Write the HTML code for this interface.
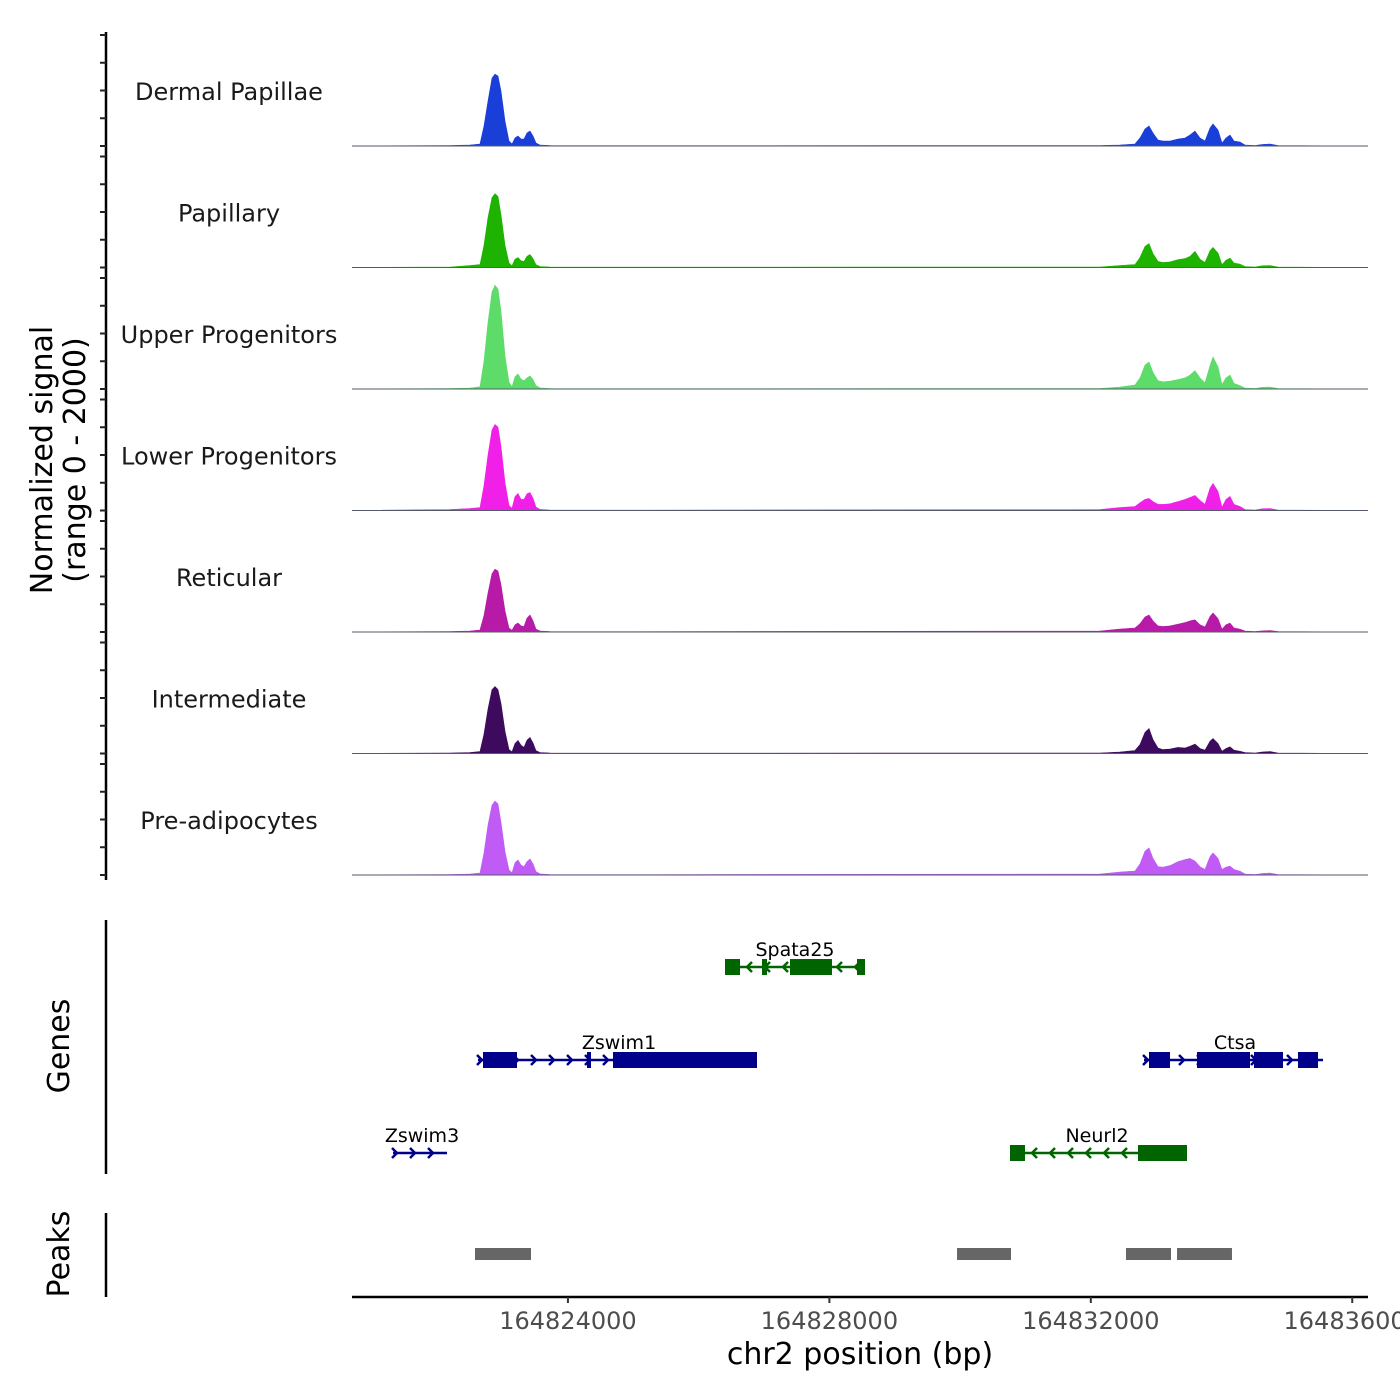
<!DOCTYPE html>
<html><head><meta charset="utf-8"><style>
html,body{margin:0;padding:0;background:#fff;}
svg{display:block;font-family:"DejaVu Sans","Liberation Sans",sans-serif;}
</style></head><body>
<svg id="chart" width="1400" height="1400" viewBox="0 0 1400 1400" xmlns="http://www.w3.org/2000/svg">
<g id="tracks"></g>
<g id="yaxis"></g>
<g id="genes"></g>
<g id="peaks"></g>
<g id="xaxis"></g>
<text transform="translate(52,460) rotate(-90)" text-anchor="middle" font-size="30" fill="#000">Normalized signal</text>
<text transform="translate(85,460) rotate(-90)" text-anchor="middle" font-size="30" fill="#000">(range 0 - 2000)</text>
<text transform="translate(69,1046) rotate(-90)" text-anchor="middle" font-size="30" fill="#000">Genes</text>
<text transform="translate(69,1254) rotate(-90)" text-anchor="middle" font-size="30" fill="#000">Peaks</text>
<text x="860" y="1364" text-anchor="middle" font-size="30" fill="#000">chr2 position (bp)</text>
</svg>
<script>
const positions = [164820696,164822195,164822501,164822654,164822716,164822777,164822838,164822884,164822930,164822976,164823037,164823098,164823144,164823190,164823236,164823282,164823328,164823374,164823419,164823465,164823511,164823572,164823725,164824490,
164832140,164832446,164832676,164832752,164832829,164832890,164832951,164833028,164833104,164833211,164833334,164833441,164833517,164833594,164833670,164833747,164833823,164833869,164833946,164834007,164834068,164834129,164834191,164834282,164834359,164834512,164834619,164834741,164834864,164836241];
const trackNames = ["Dermal Papillae","Papillary","Upper Progenitors","Lower Progenitors","Reticular","Intermediate","Pre-adipocytes"];
const trackColors = ["#1a3fd8","#1db300","#5ddc6a","#f020e8","#b81aa8","#3d0a5e","#c05cf5"];
const dermal = [0,9,18,36,360,810,1224,1296,1260,990,450,90,36,144,180,126,126,234,270,180,54,18,9,5, 9,18,36,144,306,360,234,108,90,90,126,144,198,270,144,90,324,396,288,54,144,198,90,72,18,9,27,36,9,0];
const papillary = [0,9,36,54,400,900,1260,1330,1280,950,400,80,30,150,180,120,110,200,234,160,50,18,9,5, 9,36,54,180,380,430,250,110,90,100,140,160,200,290,150,90,300,360,260,50,130,170,80,60,18,9,30,36,9,0];
const upper = [0,9,18,40,500,1200,1750,1870,1800,1400,600,120,40,220,270,180,150,200,234,170,60,20,9,5, 9,36,72,200,430,486,300,150,130,140,170,200,250,330,200,110,420,576,400,80,200,250,100,60,18,9,30,36,9,0];
const lower = [0,18,36,54,450,1000,1450,1550,1500,1150,500,90,40,250,306,200,200,300,324,220,60,20,9,5, 18,54,72,140,200,216,160,110,110,120,160,200,234,270,180,110,400,486,340,60,200,252,110,72,18,9,30,36,9,0];
const reticular = [0,9,18,36,300,700,1050,1134,1100,850,380,70,30,130,162,110,100,250,306,200,50,18,9,5, 18,54,72,150,270,306,200,110,100,110,140,170,200,220,130,90,280,342,240,50,130,160,70,50,18,9,20,27,9,0];
const intermediate = [0,9,18,36,350,800,1150,1206,1150,900,400,70,30,180,234,150,110,240,288,190,50,18,9,5, 9,27,54,160,380,450,250,100,70,80,110,100,130,170,90,60,220,270,180,40,90,120,60,40,18,9,27,36,9,0];
const preadipo = [0,9,18,36,400,900,1260,1332,1280,950,420,90,40,220,270,180,150,240,288,200,60,20,9,5, 18,54,72,200,430,486,300,150,140,170,240,280,300,250,150,100,330,396,300,100,140,160,100,70,18,9,27,36,9,0];
const xTicks = [164824000,164828000,164832000,164836000];
const xTickLabels = ["164824000","164828000","164832000","164836000"];
const peakStarts = [164822578,164829953,164832538,164833319];
const peakEnds = [164823435,164830779,164833227,164834160];

const series=[dermal,papillary,upper,lower,reticular,intermediate,preadipo];
const NS="http://www.w3.org/2000/svg";
const X0=352,X1=1368,BP0=164820696,BP1=164836241;
function xs(bp){return X0+(bp-BP0)/(BP1-BP0)*(X1-X0);}
function ys(v,base){return base-v/2000*111;}
function mk(tag,attrs,parent){const e=document.createElementNS(NS,tag);for(const k in attrs)e.setAttribute(k,attrs[k]);parent.appendChild(e);return e;}

const tg=document.getElementById('tracks');
series.forEach((vals,i)=>{
  const base=146+i*121.5;
  let d=`M${xs(positions[0])},${base}`;
  vals.forEach((v,j)=>{d+=` L${xs(positions[j]).toFixed(1)},${ys(v,base).toFixed(1)}`;});
  d+=` L${xs(positions[positions.length-1])},${base} Z`;
  const p=mk('path',{d:d,fill:trackColors[i],stroke:trackColors[i],'stroke-width':0.6},tg);
  
  
  const l=mk('line',{x1:X0,x2:X1,y1:base,y2:base,stroke:'#555a6a','stroke-width':1},tg);
  
  
  const t=mk('text',{x:229,y:base-46,'text-anchor':'middle','font-size':24,fill:'#1a1a1a'},tg);
  t.textContent=trackNames[i];
  
  
});

const ya=document.getElementById('yaxis');
mk('line',{x1:106,x2:106,y1:32,y2:880,stroke:'#000','stroke-width':2.5},ya);
for(let i=0;i<7;i++){const base=146+i*121.5;for(let k=0;k<5;k++){const y=base-k*27.75;mk('line',{x1:100,x2:106,y1:y,y2:y,stroke:'#222','stroke-width':2},ya);}}

const gg=document.getElementById('genes');
mk('line',{x1:106,x2:106,y1:920,y2:1174,stroke:'#000','stroke-width':2.5},gg);
const genes=[
 {name:'Spata25',y:967,col:'#006400',strand:-1,s:725,e:865,ex:[[725,740],[762,767],[790,832],[857,865]],lx:795},
 {name:'Zswim1',y:1060,col:'#00008b',strand:1,s:478,e:757,ex:[[483,517],[587,591],[613,757]],lx:619},
 {name:'Ctsa',y:1060,col:'#00008b',strand:1,s:1144,e:1323,ex:[[1149,1170],[1197,1250],[1254,1283],[1298,1318]],lx:1235},
 {name:'Zswim3',y:1153,col:'#00008b',strand:1,s:393,e:447,ex:[],lx:422},
 {name:'Neurl2',y:1153,col:'#006400',strand:-1,s:1010,e:1187,ex:[[1010,1025],[1138,1187]],lx:1097}
];
genes.forEach(g=>{
  const G=mk('g',{},gg);
  
  
  mk('line',{x1:g.s,x2:g.e,y1:g.y,y2:g.y,stroke:g.col,'stroke-width':2.5},G);
  for(let x=g.s+4;x<g.e;x+=18){
    const dx=g.strand*5;
    mk('polyline',{points:`${x-dx},${g.y-5} ${x},${g.y} ${x-dx},${g.y+5}`,fill:'none',stroke:g.col,'stroke-width':2.5},G);
  }
  g.ex.forEach(e=>mk('rect',{x:e[0],y:g.y-8,width:e[1]-e[0],height:16,fill:g.col},G));
  const t=mk('text',{x:g.lx,y:g.y-11,'text-anchor':'middle','font-size':19,fill:'#000'},G);
  t.textContent=g.name;
});

const pg=document.getElementById('peaks');
mk('line',{x1:106,x2:106,y1:1213,y2:1297,stroke:'#000','stroke-width':2.5},pg);
peakStarts.forEach((s,i)=>{
  const r=mk('rect',{x:xs(s),y:1248,width:xs(peakEnds[i])-xs(s),height:12,fill:'#666'},pg);
  
  
});

const xa=document.getElementById('xaxis');
mk('line',{x1:X0,x2:X1,y1:1297,y2:1297,stroke:'#000','stroke-width':2.5},xa);
xTicks.forEach((b,i)=>{
  const x=xs(b);
  mk('line',{x1:x,x2:x,y1:1297,y2:1303,stroke:'#333','stroke-width':2},xa);
  const t=mk('text',{x:x,y:1329,'text-anchor':'middle','font-size':24,fill:'#4d4d4d'},xa);
  t.textContent=xTickLabels[i];
  
  
});
</script>
</body></html>
